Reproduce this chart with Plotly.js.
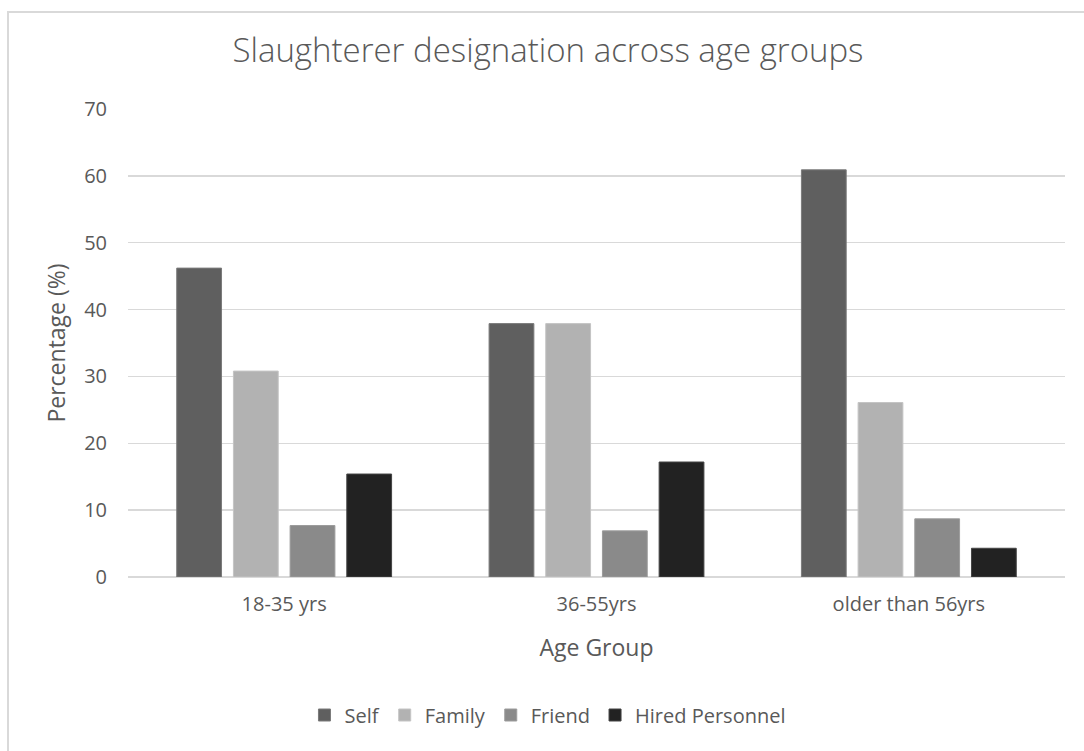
<!DOCTYPE html>
<html>
<head>
<meta charset="utf-8">
<script src="https://cdn.plot.ly/plotly-3.0.1.min.js"></script>
<style>
  html, body { margin: 0; padding: 0; background: #ffffff; overflow: hidden; }
  #chart { width: 1084px; height: 751px; position: absolute; left: 0; top: 0; }
  #frame { position: absolute; left: 7px; top: 11px; width: 1100px; height: 780px;
           border: 2px solid #d9d9d9; box-sizing: border-box; pointer-events: none; }
</style>
</head>
<body>
<div id="chart"></div>
<div id="frame"></div>
<script>
const categories = ["18-35 yrs", "36-55yrs", "older than 56yrs"];
const selfValues = [46.2, 37.9, 60.9];
const familyValues = [30.8, 37.9, 26.1];
const friendValues = [7.7, 6.9, 8.7];
const hiredValues = [15.4, 17.2, 4.3];
const yTickValues = [0, 10, 20, 30, 40, 50, 60, 70];

const FONT = "Open Sans, Noto Sans, sans-serif";
const TXT = "#595959";

function barTrace(name, values, color, edge) {
  return {
    type: "bar", name: name, x: categories, y: values,
    marker: { color: color, line: { color: edge, width: 1 } },
    hoverinfo: "x+y+name"
  };
}

const data = [
  barTrace("Self", selfValues, "#5f5f5f", "#7a7a7a"),
  barTrace("Family", familyValues, "#b2b2b2", "#c4c4c4"),
  barTrace("Friend", friendValues, "#8a8a8a", "#9c9c9c"),
  barTrace("Hired Personnel", hiredValues, "#222222", "#444444")
];

const layout = {
  width: 1084, height: 751,
  paper_bgcolor: "#ffffff", plot_bgcolor: "#ffffff",
  margin: { l: 128, r: 19, t: 109, b: 174 },
  barmode: "group", bargap: 0.274, bargroupgap: 0.21,
  font: { family: FONT, color: TXT, size: 20 },
  title: {
    text: "Slaughterer designation across age groups",
    font: { family: FONT, size: 33, color: TXT, weight: 300 },
    xref: "container", x: 0.5055, xanchor: "center",
    yref: "container", y: 1 - 50 / 751, yanchor: "middle"
  },
  xaxis: {
    type: "category",
    tickfont: { family: FONT, size: 20, color: TXT },
    ticks: "", showgrid: false, zeroline: false, showline: false,
    ticklabelstandoff: 13,
    title: { text: "Age Group", font: { family: FONT, size: 23, color: TXT }, standoff: 23 }
  },
  yaxis: {
    range: [0, 70], tickvals: yTickValues, ticktext: yTickValues.map(String),
    tickfont: { family: FONT, size: 20, color: TXT },
    showgrid: true, gridcolor: "#d9d9d9", gridwidth: 1.5,
    zeroline: true, zerolinecolor: "#d9d9d9", zerolinewidth: 1.5,
    showline: false, ticks: "", ticklabelstandoff: 20,
    title: { text: "Percentage (%)", font: { family: FONT, size: 23, color: TXT }, standoff: 12 }
  },
  showlegend: true,
  legend: {
    orientation: "h", xref: "container", x: 0.5055, xanchor: "center",
    yref: "container", y: 1 - 715 / 751, yanchor: "middle",
    font: { family: FONT, size: 20, color: TXT },
    traceorder: "normal", itemclick: false, itemdoubleclick: false
  }
};

Plotly.newPlot("chart", data, layout, { displayModeBar: false, staticPlot: true });
</script>
</body>
</html>
